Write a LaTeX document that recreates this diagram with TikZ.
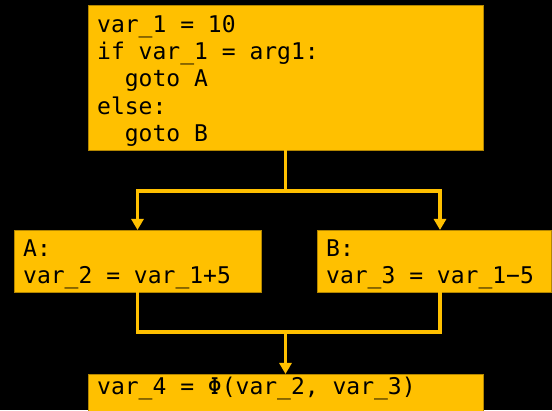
\documentclass[tikz,border=0pt]{standalone}
\usepackage{fontspec}
\setmonofont{DejaVu Sans Mono}
\usetikzlibrary{arrows.meta,calc}
\definecolor{amber}{HTML}{FFC000}
\definecolor{amberdark}{HTML}{B38600}
\tikzset{
  box/.style={draw=amberdark, line width=0.8pt, fill=amber, anchor=north west, inner sep=0pt, outer sep=0pt},
  code/.style={anchor=north west, inner sep=0pt, align=left, text=black,
    font=\ttfamily\fontsize{23pt}{27.4pt}\selectfont},
  conn/.style={draw=amber, line width=3.3pt},
  arr/.style={conn, -{Triangle[width=12pt,length=11pt]}},
}
\begin{document}
\begin{tikzpicture}[x=1pt,y=1pt]
\useasboundingbox (0,0) rectangle (552,410);
\fill[black] (0,0) rectangle (552,410);
\clip (0,0) rectangle (552,410);
% boxes
\node[box, minimum width=395pt, minimum height=145pt] (top) at (88,405) {};
\node[box, minimum width=247pt, minimum height=62pt] (A) at (14,180) {};
\node[box, minimum width=234pt, minimum height=62pt] (B) at (317,180) {};
\node[box, minimum width=395pt, minimum height=50pt] (D) at (88,36) {};
% texts
\node[code] (ttop) at ([xshift=9pt]top.north west) {\rule{0pt}{27pt}var\_1 = 10\\if var\_1 = arg1:\\\hphantom{ab}goto A\\else:\\\hphantom{ab}goto B};
\node[code] (tA) at ([xshift=9pt]A.north west) {\rule{0pt}{26pt}A:\\var\_2 = var\_1+5};
\node[code] (tB) at ([xshift=9pt]B.north west) {\rule{0pt}{26pt}B:\\var\_3 = var\_1−5};
\node[code] (tD) at ([xshift=9pt]D.north west) {\rule{0pt}{20pt}var\_4 = Φ(var\_2, var\_3)};
% connectors
\coordinate (j1) at ([yshift=-41pt]top.south);
\coordinate (j2) at (D.north |- 0,78);
\coordinate (bin) at ([xshift=123pt]B.north west);
\coordinate (bout) at ([xshift=123pt]B.south west);
\draw[conn] (top.south) -- (j1);
\draw[arr] (j1) -| (A.north);
\draw[arr] (j1) -| (bin);
\draw[conn] (A.south) |- (j2);
\draw[conn] (bout) |- (j2);
\draw[arr] (j2) -- (D.north);
\end{tikzpicture}
\end{document}
